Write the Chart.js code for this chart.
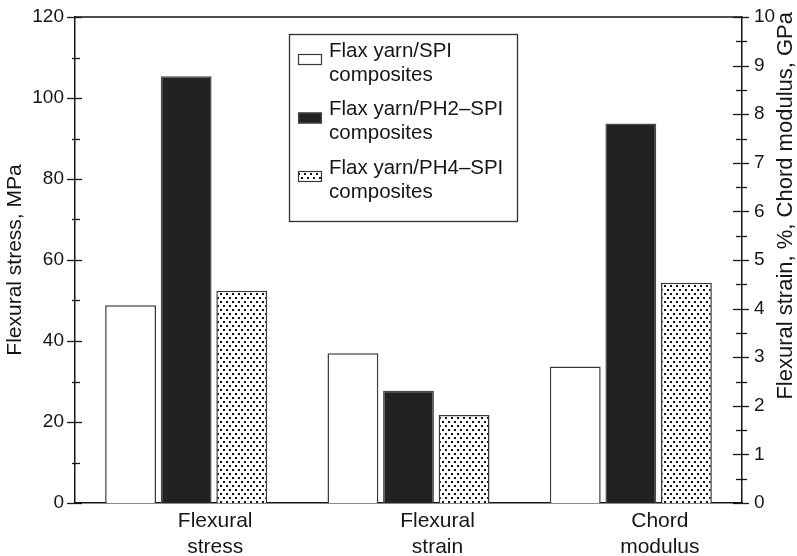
<!DOCTYPE html>
<html>
<head>
<meta charset="utf-8">
<script src="https://cdn.jsdelivr.net/npm/chart.js@4/dist/chart.umd.min.js"></script>
<style>
  html, body { margin: 0; padding: 0; background: #fff; }
  #wrap { width: 797px; height: 556px; position: relative; }
</style>
</head>
<body>
<div id="wrap"><canvas id="c"></canvas></div>
<script>
// ---- data ----
const categories = [['Flexural', 'stress'], ['Flexural', 'strain'], ['Chord', 'modulus']];
const seriesNames = [
  ['Flax yarn/SPI', 'composites'],
  ['Flax yarn/PH2\u2013SPI', 'composites'],
  ['Flax yarn/PH4\u2013SPI', 'composites']
];
const stressMPa   = [48.8, 105.4, 52.4];   // left axis
const strainPct   = [3.08, 2.31, 1.81];    // right axis
const modulusGPa  = [2.81, 7.81, 4.53];    // right axis
const leftTicks  = [0, 20, 40, 60, 80, 100, 120];
const rightTicks = [0, 1, 2, 3, 4, 5, 6, 7, 8, 9, 10];
const leftTitle  = 'Flexural stress, MPa';
const rightTitle = 'Flexural strain, %, Chord modulus, GPa';

// ---- styles ----
const INK = '#161616';
const FONT = 'Liberation Sans, Arial, Helvetica, sans-serif';

function makeDots() {
  const pc = document.createElement('canvas');
  pc.width = 6; pc.height = 8;
  const g = pc.getContext('2d');
  g.fillStyle = '#ffffff'; g.fillRect(0, 0, 6, 8);
  g.fillStyle = '#111111';
  g.fillRect(1, 1, 2, 2);
  g.fillRect(4, 5, 2, 2);
  return document.getElementById('c').getContext('2d').createPattern(pc, 'repeat');
}
const dots = makeDots();

const fills   = ['#ffffff', '#222220', dots];
const borders = ['#3a3a3a', '#4a4a4a', '#3a3a3a'];

const datasets = [];
seriesNames.forEach((name, i) => {
  datasets.push({
    label: name.join(' '),
    legendLines: name,
    data: [stressMPa[i], null, null],
    yAxisID: 'y',
    backgroundColor: fills[i], borderColor: borders[i], borderWidth: 1.5,
    skipNull: true, categoryPercentage: 0.75, barPercentage: 0.915
  });
});
seriesNames.forEach((name, i) => {
  datasets.push({
    label: name.join(' ') + ' (right)',
    legendLines: null,
    data: [null, strainPct[i], modulusGPa[i]],
    yAxisID: 'y2',
    backgroundColor: fills[i], borderColor: borders[i], borderWidth: 1.5,
    skipNull: true, categoryPercentage: 0.75, barPercentage: 0.915
  });
});

// axis decorations: top frame line, crossing tick marks, right title, boxed legend
const decor = {
  id: 'decor',
  afterDraw(chart) {
    const ctx = chart.ctx, a = chart.chartArea;
    ctx.save();
    ctx.strokeStyle = INK; ctx.lineWidth = 1.5;
    ctx.beginPath(); ctx.moveTo(a.left, a.top); ctx.lineTo(a.right, a.top); ctx.stroke();

    const drawTicks = (scale, x, majL, majR, minL, minR) => {
      const t = scale.ticks.map(k => k.value);
      ctx.lineWidth = 1.3;
      t.forEach((v, k) => {
        const y = Math.round(scale.getPixelForValue(v)) + 0.5;
        ctx.beginPath(); ctx.moveTo(x - majL, y); ctx.lineTo(x + majR, y); ctx.stroke();
        if (k < t.length - 1) {
          const ym = Math.round(scale.getPixelForValue((v + t[k + 1]) / 2)) + 0.5;
          ctx.beginPath(); ctx.moveTo(x - minL, ym); ctx.lineTo(x + minR, ym); ctx.stroke();
        }
      });
    };
    drawTicks(chart.scales.y, a.left, 8, 7, 3, 5);
    drawTicks(chart.scales.y2, a.right, 9, 7, 6, 5);

    // right axis title, reading bottom-to-top like the left one
    ctx.save();
    ctx.translate(786, 12);
    ctx.rotate(-Math.PI / 2);
    ctx.font = '22px ' + FONT;
    ctx.fillStyle = INK;
    ctx.textAlign = 'right';
    ctx.textBaseline = 'middle';
    ctx.fillText(rightTitle, 0, 0);
    ctx.restore();

    // legend box
    const bx = 289, by = 34, bw = 228, bh = 187;
    ctx.lineWidth = 1.3;
    ctx.strokeStyle = '#333';
    ctx.strokeRect(bx + 0.5, by + 0.5, bw, bh);
    ctx.font = '20.5px ' + FONT;
    ctx.textBaseline = 'middle';
    let row = 0;
    chart.data.datasets.forEach(ds => {
      if (!ds.legendLines) return;
      const y1 = 51 + row * 58.5;
      ctx.fillStyle = ds.backgroundColor;
      ctx.fillRect(298, y1 + 3, 24, 11);
      ctx.strokeStyle = ds.borderColor; ctx.lineWidth = 1.2;
      ctx.strokeRect(298.5, y1 + 3.5, 23, 10);
      ctx.fillStyle = INK;
      ds.legendLines.forEach((ln, j) => ctx.fillText(ln, 329, y1 + j * 24));
      row++;
    });
    ctx.restore();
  }
};

const fitV = w => s => { s.width = w; s.paddingTop = 0; s.paddingBottom = 0; };

new Chart(document.getElementById('c'), {
  type: 'bar',
  data: { labels: categories, datasets },
  plugins: [decor],
  options: {
    responsive: true, maintainAspectRatio: false, animation: false,
    layout: { padding: { top: 17, left: 0, right: 0, bottom: 0 } },
    plugins: { legend: { display: false }, tooltip: { enabled: false } },
    scales: {
      x: {
        grid: { display: false, drawTicks: false },
        border: { display: true, color: INK, width: 1.5 },
        ticks: { color: INK, font: { family: FONT, size: 21 }, padding: 6, labelOffset: 29, maxRotation: 0, autoSkip: false },
        afterFit: s => { s.height = 53; s.paddingLeft = 0; s.paddingRight = 0; }
      },
      y: {
        position: 'left', min: 0, max: 120,
        afterBuildTicks: s => { s.ticks = leftTicks.map(v => ({ value: v })); },
        grid: { display: false, drawTicks: false },
        border: { display: true, color: INK, width: 1.5 },
        ticks: { color: INK, font: { family: FONT, size: 19 }, padding: 11 },
        title: { display: true, text: leftTitle, color: INK, font: { family: FONT, size: 21 }, padding: { top: 3, bottom: 0 } },
        afterFit: fitV(75)
      },
      y2: {
        position: 'right', min: 0, max: 10,
        afterBuildTicks: s => { s.ticks = rightTicks.map(v => ({ value: v })); },
        grid: { display: false, drawTicks: false },
        border: { display: true, color: INK, width: 1.5 },
        ticks: { color: INK, font: { family: FONT, size: 19 }, padding: 12 },
        afterFit: fitV(55)
      }
    }
  }
});
</script>
</body>
</html>
